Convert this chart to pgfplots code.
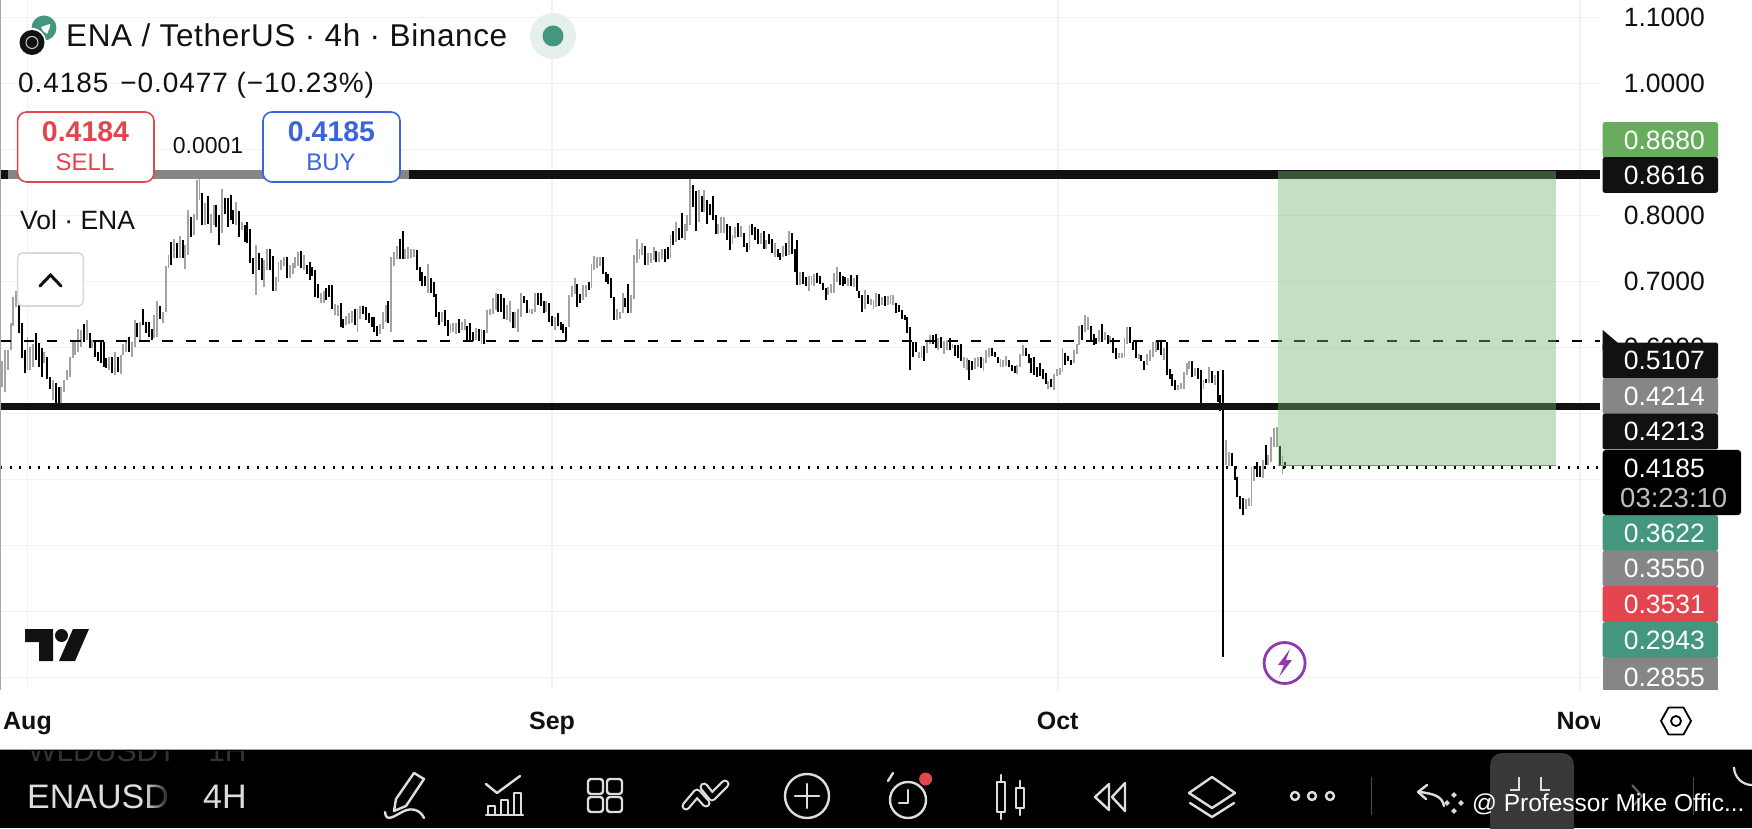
\documentclass[border=0pt]{standalone}
\usepackage{pgfplots}
\usepackage{pgfplotstable}
\usepackage{fontspec}
\setmainfont{Liberation Sans}
\pgfplotsset{compat=1.18}
\usetikzlibrary{fadings}
\definecolor{tvblack}{HTML}{111111}
\definecolor{tvgray}{HTML}{868686}
\definecolor{tvteal}{HTML}{44977F}
\definecolor{tvred}{HTML}{E2454E}
\definecolor{tvgreen}{HTML}{68AC5E}
\definecolor{rectgreen}{RGB}{117,181,110}
\definecolor{candgray}{HTML}{A3A3A3}
\definecolor{gridc}{HTML}{F2F2F2}
\definecolor{tvblue}{HTML}{3C64DC}
\definecolor{icon}{HTML}{DDDDDD}
\definecolor{boltp}{HTML}{8E3BAE}
\newcommand{\fs}[1]{\fontsize{#1}{#1}\selectfont}
\pgfplotstableread{
i hi lo
-9 .579 .541
-8 .596 .533
-7 .596 .566
-6 .638 .596
-5 .677 .632
-4 .685 .662
0 .616 .566
1 .601 .566
2 .606 .571
6 .594 .576
9 .551 .521
12 .541 .511
13 .551 .533
14 .566 .551
15 .586 .556
16 .609 .584
17 .609 .589
18 .628 .594
19 .627 .601
21 .642 .611
23 .611 .599
29 .586 .566
31 .594 .558
33 .589 .560
34 .606 .589
35 .609 .594
37 .609 .586
38 .642 .601
40 .639 .611
45 .649 .614
46 .670 .616
48 .654 .637
49 .723 .654
50 .740 .720
52 .765 .735
54 .769 .735
56 .755 .719
57 .809 .740
59 .802 .771
60 .854 .794
61 .855 .824
63 .819 .786
65 .803 .773
66 .816 .786
69 .841 .773
74 .820 .786
76 .791 .778
81 .755 .680
84 .733 .692
85 .750 .718
88 .707 .685
89 .729 .700
90 .733 .718
91 .737 .723
93 .725 .706
94 .728 .712
95 .737 .720
96 .745 .723
98 .740 .718
104 .683 .668
105 .685 .668
109 .666 .649
110 .665 .648
113 .648 .634
114 .653 .636
115 .656 .638
117 .659 .623
118 .663 .643
125 .636 .621
126 .654 .628
127 .664 .639
129 .738 .624
130 .745 .724
131 .754 .734
134 .750 .734
135 .753 .734
136 .750 .735
137 .749 .737
142 .726 .683
147 .654 .639
150 .636 .622
151 .637 .624
152 .637 .621
154 .639 .627
155 .644 .627
159 .629 .611
161 .628 .605
163 .657 .622
164 .658 .649
165 .675 .651
166 .683 .657
170 .665 .642
171 .670 .639
173 .654 .629
174 .659 .624
175 .683 .647
178 .659 .652
179 .658 .651
180 .682 .654
184 .671 .654
187 .647 .626
192 .680 .631
193 .693 .677
194 .706 .681
197 .695 .672
198 .695 .676
200 .727 .691
201 .739 .718
202 .737 .720
203 .737 .724
209 .658 .642
210 .654 .644
211 .682 .652
214 .680 .652
215 .740 .673
216 .765 .728
217 .750 .734
218 .758 .740
220 .743 .725
221 .744 .728
222 .753 .732
224 .745 .730
225 .750 .734
228 .771 .735
230 .791 .760
233 .788 .763
234 .801 .776
235 .869 .786
238 .839 .791
240 .839 .806
245 .788 .772
246 .798 .773
247 .798 .773
250 .771 .757
251 .783 .766
253 .784 .768
256 .786 .748
260 .773 .757
262 .763 .750
265 .758 .737
268 .754 .737
270 .776 .740
274 .715 .695
277 .708 .686
278 .708 .695
279 .712 .693
284 .692 .680
285 .696 .683
286 .713 .683
287 .722 .700
291 .706 .693
293 .706 .692
297 .688 .659
299 .673 .665
300 .672 .658
301 .683 .662
303 .677 .665
305 .678 .665
306 .680 .666
307 .680 .665
316 .594 .584
317 .602 .584
319 .611 .592
320 .619 .606
323 .614 .597
325 .610 .590
326 .611 .596
328 .606 .599
332 .586 .569
333 .584 .566
336 .584 .567
337 .585 .570
339 .584 .564
340 .596 .577
341 .599 .586
345 .582 .571
346 .581 .571
347 .587 .572
351 .574 .560
352 .591 .571
353 .604 .587
362 .550 .537
364 .560 .535
365 .567 .557
366 .569 .558
367 .599 .563
371 .596 .576
372 .606 .591
373 .632 .604
375 .650 .624
376 .646 .627
380 .627 .609
382 .624 .612
384 .617 .607
387 .592 .584
388 .592 .584
389 .614 .585
390 .631 .606
394 .590 .582
397 .591 .574
398 .596 .580
399 .609 .586
400 .610 .594
403 .599 .581
408 .543 .535
409 .546 .537
410 .563 .538
411 .576 .558
412 .580 .567
414 .569 .557
417 .551 .538
419 .570 .546
421 .558 .543
425 .460 .422
426 .442 .420
432 .370 .356
433 .372 .360
434 .419 .360
435 .420 .398
438 .430 .402
440 .437 .422
441 .465 .427
442 .478 .450
443 .480 .450
445 .435 .408
}\graycandles
\pgfplotstableread{
i hi lo
-3 .664 .622
-2 .637 .584
-1 .596 .561
3 .622 .581
4 .607 .571
5 .599 .556
7 .586 .553
8 .555 .538
10 .546 .513
11 .541 .513
20 .636 .609
22 .622 .599
24 .609 .586
25 .594 .579
26 .609 .576
27 .609 .571
28 .584 .569
30 .586 .561
32 .586 .563
36 .616 .594
39 .638 .616
41 .658 .634
42 .639 .622
43 .639 .616
44 .628 .611
47 .663 .644
51 .760 .725
53 .758 .735
55 .763 .735
58 .798 .768
62 .834 .786
64 .829 .788
67 .816 .783
68 .801 .755
70 .826 .803
71 .826 .783
72 .831 .793
73 .808 .788
75 .807 .768
77 .786 .760
78 .791 .758
79 .779 .728
80 .735 .712
82 .744 .718
83 .735 .702
86 .750 .718
87 .739 .685
92 .737 .706
97 .746 .720
99 .725 .712
100 .729 .703
101 .722 .708
102 .718 .676
103 .697 .675
106 .690 .672
107 .695 .676
108 .695 .659
111 .668 .631
112 .643 .629
116 .658 .634
119 .663 .651
120 .661 .642
121 .652 .638
122 .647 .631
123 .646 .624
124 .633 .617
128 .670 .638
132 .764 .734
133 .776 .734
138 .748 .718
139 .722 .701
140 .714 .693
141 .708 .693
143 .706 .682
144 .700 .676
145 .681 .646
146 .654 .634
148 .657 .632
149 .642 .617
153 .643 .622
156 .633 .610
157 .637 .611
158 .624 .610
160 .628 .610
162 .627 .606
167 .681 .654
168 .681 .654
169 .675 .644
172 .654 .629
176 .678 .667
177 .672 .652
181 .683 .664
182 .683 .663
183 .670 .653
185 .667 .639
186 .648 .633
188 .652 .632
189 .639 .627
190 .636 .622
191 .631 .610
195 .697 .662
196 .681 .668
199 .700 .687
204 .737 .711
205 .715 .700
206 .712 .697
207 .706 .675
208 .676 .642
212 .675 .661
213 .697 .652
219 .754 .725
223 .747 .729
226 .750 .730
227 .752 .734
229 .776 .755
231 .781 .763
232 .804 .766
236 .846 .813
237 .838 .777
239 .830 .806
241 .823 .788
242 .818 .801
243 .829 .793
244 .801 .772
248 .787 .763
249 .784 .748
252 .789 .768
254 .773 .752
255 .759 .745
257 .787 .771
258 .783 .763
259 .779 .757
261 .776 .750
263 .772 .757
264 .764 .744
266 .750 .737
267 .744 .732
269 .759 .739
271 .774 .742
272 .750 .715
273 .763 .695
275 .715 .697
276 .707 .693
280 .713 .698
281 .708 .697
282 .698 .687
283 .691 .672
288 .715 .695
289 .708 .693
290 .707 .697
292 .710 .693
294 .710 .685
295 .686 .675
296 .680 .654
298 .680 .666
302 .681 .663
304 .678 .663
308 .667 .652
309 .664 .654
310 .657 .644
311 .649 .642
312 .646 .622
313 .631 .566
314 .609 .586
315 .609 .594
318 .602 .580
321 .619 .606
322 .620 .599
324 .616 .599
327 .614 .596
329 .604 .587
330 .604 .584
331 .605 .579
334 .581 .551
335 .579 .566
338 .585 .569
342 .599 .587
343 .594 .585
344 .585 .577
348 .581 .570
349 .574 .565
350 .572 .562
354 .600 .587
355 .591 .576
356 .584 .562
357 .585 .558
358 .571 .556
359 .576 .557
360 .568 .553
361 .561 .545
363 .553 .540
368 .592 .574
369 .587 .579
370 .581 .574
374 .634 .611
377 .633 .612
378 .621 .604
379 .614 .605
381 .636 .609
383 .619 .606
385 .614 .592
386 .599 .582
391 .631 .607
392 .609 .597
393 .610 .584
395 .589 .579
396 .580 .566
401 .610 .597
402 .609 .589
404 .609 .558
405 .567 .552
406 .560 .542
407 .551 .536
413 .579 .556
415 .569 .552
416 .566 .516
418 .552 .546
420 .565 .546
422 .565 .518
423 .528 .504
424 .566 .131
427 .441 .420
428 .421 .400
429 .404 .373
430 .375 .355
431 .372 .346
436 .426 .404
437 .420 .404
439 .452 .422
444 .451 .420
446 .426 .417
}\blackcandles
\begin{document}
\begin{tikzpicture}
\useasboundingbox (0pt,0pt) rectangle (1752pt,828pt);
\clip (0pt,0pt) rectangle (1752pt,828pt);
\fill[white] (0pt,0pt) rectangle (1752pt,828pt);
\begin{axis}[
  at={(0pt,138pt)}, anchor=south west, scale only axis,
  width=1600pt, height=690pt,
  xmin=-9.75, xmax=557.6, ymin=0.0812, ymax=1.12667,
  axis line style={draw=none},
  major tick length=0pt,
  xtick={0,186,365.3,550.6},
  xticklabels={Aug,Sep,Oct,Nov},
  ytick={0.1,0.2,0.3,0.4,0.5,0.6,0.7,0.8,0.9,1.0,1.1},
  yticklabels={{},{},{},{},{},0.6000,0.7000,0.8000,{},1.0000,1.1000},
  grid=major,
  grid style={gridc,line width=1.6pt},
  yticklabel pos=right,
  yticklabel style={anchor=east,inner sep=0pt,xshift=105pt,font=\fs{26.5},text=tvblack},
  xticklabel style={anchor=base,inner sep=0pt,yshift=-39pt,font=\bfseries\fs{25},text=tvblack},
]
\addplot[draw=none,mark=none,forget plot,
  error bars/.cd,y dir=plus,y explicit,error mark=none,
  error bar style={candgray,line width=1.9pt}]
  table[x=i,y=lo,y error expr=\thisrow{hi}-\thisrow{lo}] {\graycandles};
\addplot[draw=none,mark=none,forget plot,
  error bars/.cd,y dir=plus,y explicit,error mark=none,
  error bar style={black,line width=2pt}]
  table[x=i,y=lo,y error expr=\thisrow{hi}-\thisrow{lo}] {\blackcandles};
% horizontal levels
\addplot[tvblack,line width=9pt,forget plot] coordinates {(-9.75,0.8616) (557.6,0.8616)};
\addplot[tvgray,line width=9pt,forget plot] coordinates {(-6.9,0.8616) (135.3,0.8616)};
\addplot[tvblack,line width=7.5pt,forget plot] coordinates {(-9.75,0.5107) (557.6,0.5107)};
\addplot[black,line width=2.2pt,dash pattern=on 10.5pt off 12.6pt,forget plot] coordinates {(-9.5,0.6095) (557.6,0.6095)};
\addplot[black,line width=2.4pt,dash pattern=on 2.4pt off 7.1pt,forget plot] coordinates {(-9.75,0.4185) (557.6,0.4185)};
% long position box
\addplot[draw=none,fill=rectgreen,fill opacity=0.42,forget plot] coordinates {(443.4,0.4214) (542,0.4214) (542,0.8680) (443.4,0.8680)} -- cycle;
\addplot[tvgray,line width=1.6pt,forget plot] coordinates {(443.4,0.4214) (542,0.4214)};
\end{axis}
\begin{scope}[x=1pt,y=-1pt,yshift=828pt]
% left edge
\fill[gray!70] (0,0) rectangle (1.4,690);
% Nov clipping
\fill[white] (1600,695) rectangle (1660,745);
% price tags
\newcommand{\tag}[3]{\fill[#1,rounded corners=2pt] (1602.7,#2-17.8) rectangle (1718,#2+17.8);
  \node[anchor=east,inner sep=0pt,text=white,font=\fs{26.5}] at (1705,#2) {#3};}
\tag{tvgreen}{140}{0.8680}
\tag{tvblack}{175}{0.8616}
\fill[tvblack] (1602.7,330) -- (1618,343) -- (1618,350) -- (1602.7,350) -- cycle;
\tag{tvblack}{360.5}{0.5107}
\tag{tvgray}{396}{0.4214}
\tag{tvblack}{431.5}{0.4213}
\tag{tvteal}{533}{0.3622}
\tag{tvgray}{568.5}{0.3550}
\tag{tvred}{604}{0.3531}
\tag{tvteal}{640}{0.2943}
\fill[tvgray] (1602.7,658) rectangle (1718,690);
\node[anchor=east,inner sep=0pt,text=white,font=\fs{26.5}] at (1705,677) {0.2855};
\fill[black,rounded corners=3pt] (1602.7,450) rectangle (1741,515);
\node[anchor=east,inner sep=0pt,text=white,font=\fs{26.5}] at (1705,468) {0.4185};
\node[anchor=west,inner sep=0pt,text=black!25,font=\fs{27.5}] at (1620,498) {03:23:10};
% settings
\draw[black,line width=1.8pt,line join=round] (1661,721) -- (1668.5,707.5) -- (1683.5,707.5) -- (1691,721) -- (1683.5,734.5) -- (1668.5,734.5) -- cycle;
\draw[black,line width=1.8pt] (1676,721) circle (5);
% header
\fill[tvteal] (44,28) circle (12.5);
\fill[white] (41,27) -- (50,24) -- (50,27) -- (47,34) -- (43,31) -- cycle;
\fill[white] (32,42) circle (14);
\fill[tvblack] (32,42.5) circle (12.5);
\draw[white!80!black,line width=1pt] (32,42.5) circle (6);
\node[anchor=base west,inner sep=0pt,text=tvblack,font=\fs{31.5}\addfontfeature{LetterSpace=2}] at (66,47) {ENA / TetherUS · 4h · Binance};
\fill[tvteal!14] (553,36) circle (23);
\fill[tvteal] (553,36) circle (10.5);
\node[anchor=base west,inner sep=0pt,text=tvblack,font=\fs{28}\addfontfeature{LetterSpace=3.3}] at (18,93) {0.4185\hspace{12pt}−0.0477 (−10.23\%)};
% sell / buy
\draw[tvred,fill=white,line width=1.6pt,rounded corners=9pt] (17.6,112) rectangle (154,182);
\node[anchor=base,inner sep=0pt,text=tvred,font=\bfseries\fs{28.5}] at (85.5,142) {0.4184};
\node[anchor=base,inner sep=0pt,text=tvred,font=\fs{24}] at (85,171) {SELL};
\draw[tvblue,fill=white,line width=1.6pt,rounded corners=9pt] (263,112) rectangle (400,182);
\node[anchor=base,inner sep=0pt,text=tvblue,font=\bfseries\fs{28.5}] at (331.5,142) {0.4185};
\node[anchor=base,inner sep=0pt,text=tvblue,font=\fs{24}] at (331,171) {BUY};
\node[anchor=base,inner sep=0pt,text=tvblack,font=\fs{23}] at (208,154) {0.0001};
\node[anchor=base west,inner sep=0pt,text=tvblack,font=\fs{26.5}] at (20,229.5) {Vol · ENA};
\draw[black!15,fill=white,line width=1.6pt,rounded corners=5pt] (17.6,253) rectangle (83.4,306);
\draw[tvblack,line width=3pt,line cap=round] (40,286) -- (50.5,275) -- (61,286);
% TradingView logo
\fill[tvblack] (25,629) -- (53,629) -- (53,661) -- (39,661) -- (39,642) -- (25,642) -- cycle;
\fill[tvblack] (61.5,635.5) circle (6.5);
\fill[tvblack] (73,629) -- (89,629) -- (75,661) -- (59,661) -- cycle;
% bolt
\draw[boltp,line width=2.8pt] (1284.6,663) circle (20.5);
\fill[boltp] (1290,649) -- (1278,665) -- (1284,665) -- (1279,677) -- (1292,660) -- (1286,660) -- cycle;
% bottom bar
\fill[black] (0,750) rectangle (1752,828);
\draw[black!35,line width=1.4pt] (0,749.5) -- (1752,749.5);
\begin{scope}
\clip (0,751) rectangle (1752,828);
\node[anchor=base west,inner sep=0pt,text=black!80,font=\fs{30}] at (28,761) {WLDUSDT};
\node[anchor=base west,inner sep=0pt,text=black!80,font=\fs{30}] at (208,761) {1H};
\end{scope}
\node[anchor=base west,inner sep=0pt,text=icon,font=\fs{34}] at (27,808) {ENAUSD};
\fill[black,path fading=west] (145,778) rectangle (172,812);
\node[anchor=base west,inner sep=0pt,text=icon,font=\fs{34}] at (203,808) {4H};
\begin{scope}[icon,line width=2.4pt,line join=round,line cap=round]
% pencil
\draw (396,799) -- (414,773) -- (424,779) -- (406,806) -- (394,811) -- cycle;
\draw (385,812) .. controls (386,823) and (394,816) .. (404,811) .. controls (413,807) and (421,811) .. (424,818);
% chart
\draw (486,784) -- (497,793) -- (520,776);
\draw (486,815) -- (523,815);
\draw (488,815) -- (488,806) -- (495,806) -- (495,815);
\draw (501,815) -- (501,800) -- (508,800) -- (508,815);
\draw (514,815) -- (514,793) -- (521,793) -- (521,815);
% grid
\draw[rounded corners=3pt] (588,779) rectangle (603,794);
\draw[rounded corners=3pt] (607,779) rectangle (622,794);
\draw[rounded corners=3pt] (588,797) rectangle (603,812);
\draw[rounded corners=3pt] (607,797) rectangle (622,812);
% trend
\draw[line width=9pt] (686,806) -- (697,793) -- (706,803);
\draw[line width=9pt] (704,787) -- (712,797) -- (725,784);
\draw[black,line width=4.5pt] (686,806) -- (697,793) -- (706,803);
\draw[black,line width=4.5pt] (704,787) -- (712,797) -- (725,784);
% plus
\draw (807,796) circle (22);
\draw (795,796) -- (819,796);
\draw (807,784) -- (807,808);
% clock
\draw (908,800) circle (18);
\draw (908,790) -- (908,803) -- (899,803);
\draw (888,781) -- (893,773);
% candles
\draw (997,782) rectangle (1005,812);
\draw (1001,775) -- (1001,782);
\draw (1001,812) -- (1001,819);
\draw (1016,788) rectangle (1024,808);
\draw (1020,781) -- (1020,788);
\draw (1020,808) -- (1020,815);
% rewind
\draw (1109,784) -- (1095,797) -- (1109,810) -- cycle;
\draw (1125,783) -- (1112,797) -- (1125,811) -- cycle;
% layers
\draw (1212,777) -- (1235,793) -- (1212,808) -- (1189,793) -- cycle;
\draw (1190,803) -- (1212,817) -- (1234,803);
% dots
\draw (1295,796) circle (4);
\draw (1312,796) circle (4);
\draw (1330,796) circle (4);
\end{scope}
\fill[tvred] (925.6,779) circle (6.5);
\draw[black!70,line width=1pt] (1371,777) -- (1371,815);
\fill[black!78,rounded corners=12pt] (1490,753) rectangle (1574,840);
\draw[icon,line width=2.2pt] (1519,777) -- (1519,790) -- (1510,790);
\draw[icon,line width=2.2pt] (1541,777) -- (1541,790) -- (1550,790);
\draw[black!70,line width=1pt] (1693,777) -- (1693,815);
\draw[black!60,line width=2pt] (1632,785) -- (1642,796) -- (1632,807);
\draw[icon,line width=2.2pt] (1752,785) arc (90:180:18);
\draw[icon,line width=2.4pt,line cap=round,line join=round] (1444,806) .. controls (1442,796) and (1434,794) .. (1420,792);
\draw[icon,line width=2.4pt,line cap=round,line join=round] (1427,785) -- (1418,792) -- (1426,799);
\foreach \dx/\dy in {0/-8,-7/0,7/0,0/8}
  \fill[icon] (1454+\dx,803+\dy-2.8) -- (1454+\dx+2.8,803+\dy) -- (1454+\dx,803+\dy+2.8) -- (1454+\dx-2.8,803+\dy) -- cycle;
\node[anchor=base west,inner sep=0pt,text=white,font=\fs{24.5}] at (1472,811) {@ Professor Mike Offic...};
\end{scope}
\end{tikzpicture}
\end{document}
